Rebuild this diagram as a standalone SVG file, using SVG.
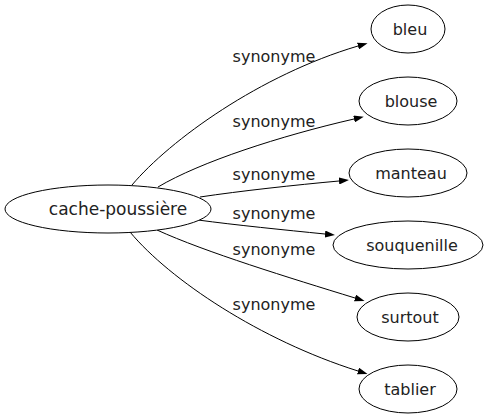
<svg xmlns="http://www.w3.org/2000/svg" width="487" height="419" viewBox="0 0 487 419">
<style>
.node ellipse{fill:#ffffff;stroke:#000000;stroke-width:1}
text{font-family:"DejaVu Sans","Liberation Sans",sans-serif;font-size:16px;fill:#222222;text-anchor:middle}
.edge path{fill:none;stroke:#000000;stroke-width:1;marker-end:url(#arrow)}
</style>
<defs>
<marker id="arrow" viewBox="0 0 10 7" refX="0" refY="3.5" markerWidth="10" markerHeight="7" markerUnits="userSpaceOnUse" orient="auto">
<path d="M0,0 L10,3.5 L0,7 Z" fill="#000000"/>
</marker>
</defs>
<rect width="487" height="419" fill="#ffffff"/>
<g id="edges">
<g class="edge"><path d="M132,185 C170,140 260,75 358,46"/><text x="274" y="62">synonyme</text></g>
<g class="edge"><path d="M158,187 C200,162 280,136 354,119"/><text x="274" y="127">synonyme</text></g>
<g class="edge"><path d="M200,197 C240,191 295,185 339,181"/><text x="274" y="180">synonyme</text></g>
<g class="edge"><path d="M198,220 C235,225 285,230 325,234"/><text x="274" y="219">synonyme</text></g>
<g class="edge"><path d="M157,230 C205,252 290,278 355,298"/><text x="274" y="255">synonyme</text></g>
<g class="edge"><path d="M130,232 C170,280 260,340 358,371"/><text x="274" y="310">synonyme</text></g>
</g>
<g id="node-cache-poussiere" class="node"><ellipse cx="108" cy="209" rx="103" ry="24"/><text x="118" y="215" style="font-size:17px">cache-poussière</text></g>
<g id="node-bleu" class="node"><ellipse cx="408" cy="29" rx="37" ry="24"/><text x="410" y="35">bleu</text></g>
<g id="node-blouse" class="node"><ellipse cx="408" cy="101" rx="49" ry="24"/><text x="411" y="107">blouse</text></g>
<g id="node-manteau" class="node"><ellipse cx="408" cy="173" rx="59" ry="24"/><text x="411" y="179">manteau</text></g>
<g id="node-souquenille" class="node"><ellipse cx="408" cy="245" rx="75" ry="24"/><text x="412" y="251">souquenille</text></g>
<g id="node-surtout" class="node"><ellipse cx="408" cy="317" rx="51" ry="24"/><text x="410" y="323">surtout</text></g>
<g id="node-tablier" class="node"><ellipse cx="408" cy="389" rx="49" ry="24"/><text x="410" y="395">tablier</text></g>
</svg>
